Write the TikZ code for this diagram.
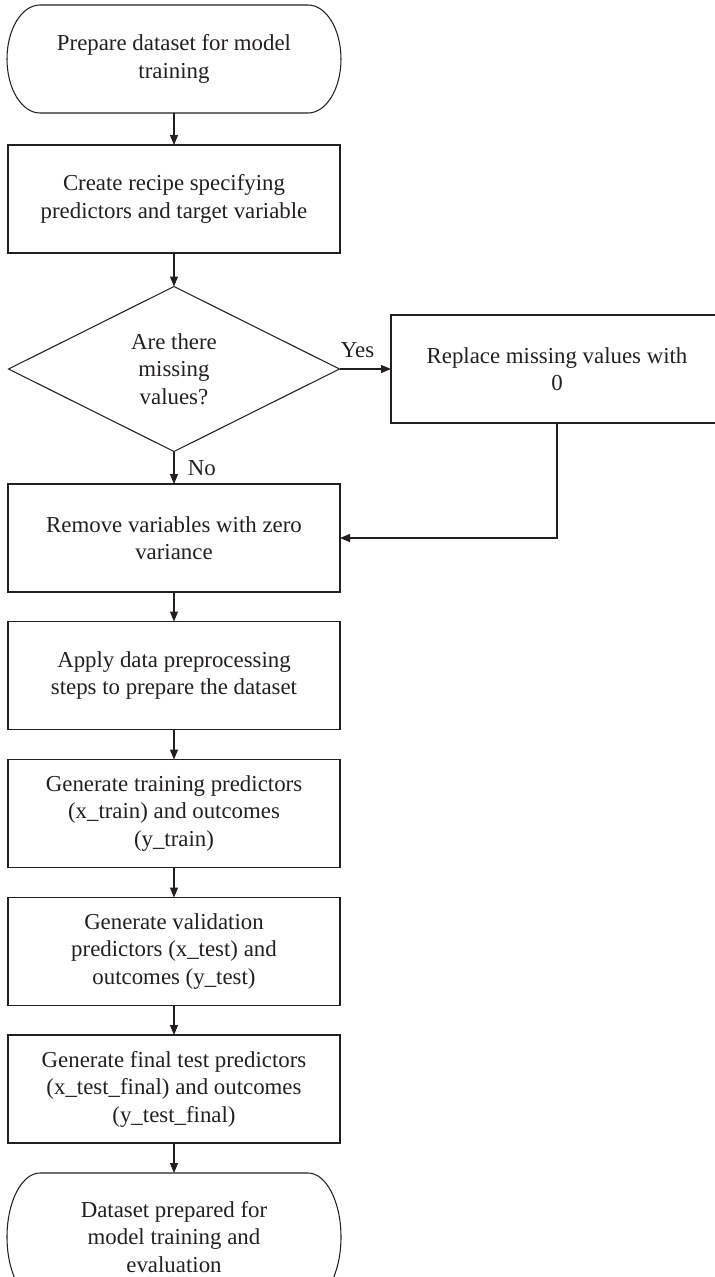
\documentclass[tikz,border=0pt]{standalone}
\usepackage{fontspec}
\setmainfont{Liberation Serif}
\usetikzlibrary{shapes.geometric,arrows.meta}
\definecolor{inkgray}{HTML}{231F20}
\begin{document}
\begin{tikzpicture}[
            termnode/.style={minimum width=6.68cm, inner sep=0pt, outer sep=0pt, align=center},
            procnode/.style={rectangle, draw=inkgray, line width=0.6pt, minimum width=6.64cm, minimum height=2.16cm, inner sep=0pt, outer sep=0pt, align=center},
            decnode/.style={diamond, draw=inkgray, line width=0.6pt, minimum width=6.62cm, minimum height=3.3cm, inner sep=0pt, outer sep=0pt, align=center},
            outline/.style={draw=inkgray, line width=0.6pt},
            flow/.style={-{Triangle[length=2mm, width=1.6mm]}, draw=inkgray, line width=0.6pt},
            font=\fontsize{13}{15.6}\selectfont,
            text=inkgray
        ]
        \useasboundingbox (0,0) rectangle (14.28,-25.54);

        % Start and end
        \node[termnode, minimum height=2.16cm] (start) at (3.48,-1.18) {Prepare dataset for model\\training};
        \node[termnode, minimum height=2.56cm] (finish) at (3.48,-24.74) {Dataset prepared for\\model training and\\evaluation};

        % Process steps
        \node[procnode] (recipe) at (3.48,-3.98) {Create recipe specifying\\predictors and target variable};
        \node[decnode] (missing) at (3.48,-7.38) {Are there\\missing\\values?};
        \node[procnode] (replace) at (11.14,-7.38) {Replace missing values with\\0};
        \node[procnode] (zerovar) at (3.48,-10.76) {Remove variables with zero\\variance};
        \node[procnode] (prep) at (3.48,-13.51) {Apply data preprocessing\\steps to prepare the dataset};
        \node[procnode] (train) at (3.48,-16.27) {Generate training predictors\\(x\_train) and outcomes\\(y\_train)};
        \node[procnode] (valid) at (3.48,-19.03) {Generate validation\\predictors (x\_test) and\\outcomes (y\_test)};
        \node[procnode] (final) at (3.48,-21.78) {Generate final test predictors\\(x\_test\_final) and outcomes\\(y\_test\_final)};

        % Terminal outlines
        \draw[outline] ([xshift=0.66cm]start.north west) -- ([xshift=-0.66cm]start.north east)
            arc[start angle=90, end angle=-90, x radius=0.66cm, y radius=1.08cm]
            -- ([xshift=0.66cm]start.south west)
            arc[start angle=270, end angle=90, x radius=0.66cm, y radius=1.08cm] -- cycle;
        \draw[outline] ([xshift=0.66cm]finish.north west) -- ([xshift=-0.66cm]finish.north east)
            arc[start angle=90, end angle=-90, x radius=0.66cm, y radius=1.28cm]
            -- ([xshift=0.66cm]finish.south west)
            arc[start angle=270, end angle=90, x radius=0.66cm, y radius=1.28cm] -- cycle;

        % Edges
        \draw[flow] (start) -- (recipe);
        \draw[flow] (recipe) -- (missing);
        \draw[flow] (missing.east) -- (replace.west) node[pos=0.35, above=1mm] {Yes};
        \draw[flow] (missing.south) -- (zerovar.north) node[midway, right=1.5mm] {No};
        \draw[flow] (replace.south) |- (zerovar.east);
        \draw[flow] (zerovar) -- (prep);
        \draw[flow] (prep) -- (train);
        \draw[flow] (train) -- (valid);
        \draw[flow] (valid) -- (final);
        \draw[flow] (final) -- (finish);

    \end{tikzpicture}
\end{document}
